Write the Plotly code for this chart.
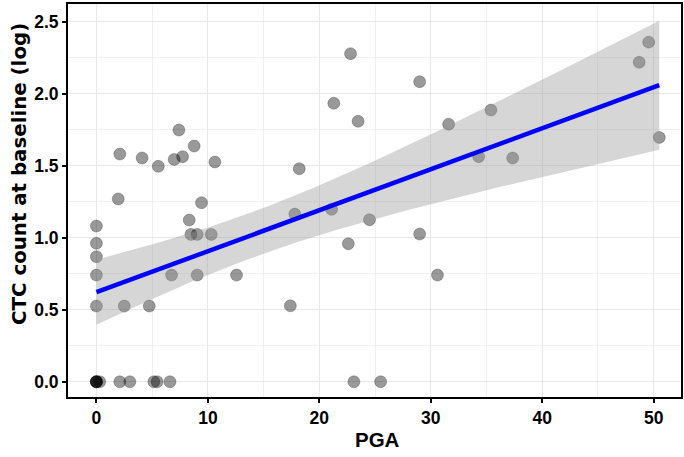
import numpy as np
import plotly.graph_objects as go

# Data (PGA vs log CTC count)
pga = [0, 0, 0, 0, 0.3,
       2.1, 3.0, 5.15, 5.45, 6.6,
       0, 0, 0, 0, 0,
       1.96, 2.1, 2.5, 4.1, 4.74, 5.55, 6.74, 6.98, 7.4, 7.73, 8.33, 8.48,
       8.77, 9.04, 9.04, 9.43, 10.3, 10.63, 12.57,
       17.4, 17.8, 18.2, 21.1, 21.3, 22.6, 22.8, 23.1, 23.48, 24.5, 25.5,
       29.0, 29.0, 30.6, 31.6, 34.3, 35.4, 37.35, 48.7, 49.55, 50.5]
ctc = [0, 0, 0, 0, 0,
       0, 0, 0, 0, 0,
       0.526, 0.741, 0.869, 0.962, 1.082,
       1.27, 1.582, 0.526, 1.555, 0.526, 1.497, 0.741, 1.545, 1.749, 1.564, 1.124, 1.024,
       1.638, 1.024, 0.741, 1.244, 1.024, 1.527, 0.741,
       0.528, 1.165, 1.48, 1.198, 1.935, 0.959, 2.28, 0, 1.81, 1.126, 0,
       2.085, 1.026, 0.741, 1.79, 1.564, 1.888, 1.555, 2.22, 2.36, 1.698]

x_ticks = [0, 10, 20, 30, 40, 50]
y_ticks = [0.0, 0.5, 1.0, 1.5, 2.0, 2.5]
y_tick_labels = ["0.0", "0.5", "1.0", "1.5", "2.0", "2.5"]
x_title = "PGA"
y_title = "CTC count at baseline (log)"

# Linear fit with 95% confidence band (like geom_smooth(method = "lm"))
x = np.array(pga, dtype=float)
y = np.array(ctc, dtype=float)
n = len(x)
b1, b0 = np.polyfit(x, y, 1)
resid = y - (b0 + b1 * x)
s = np.sqrt(np.sum(resid ** 2) / (n - 2))
xbar = x.mean()
sxx = np.sum((x - xbar) ** 2)
nu = n - 2
z = 1.959964
tq = z + (z ** 3 + z) / (4 * nu) + (5 * z ** 5 + 16 * z ** 3 + 3 * z) / (96 * nu ** 2)
xg = np.linspace(x.min(), x.max(), 80)
yg = b0 + b1 * xg
se = s * np.sqrt(1 / n + (xg - xbar) ** 2 / sxx)
lo = yg - tq * se
hi = yg + tq * se

fig = go.Figure()
fig.add_trace(go.Scatter(
    x=pga, y=ctc, mode="markers",
    marker=dict(size=12, color="rgba(0,0,0,0.4)",
                line=dict(color="rgba(0,0,0,0.3)", width=0.8)),
    showlegend=False))
fig.add_trace(go.Scatter(
    x=np.concatenate([xg, xg[::-1]]), y=np.concatenate([hi, lo[::-1]]),
    fill="toself", fillcolor="rgba(153,153,153,0.4)", line=dict(width=0),
    mode="lines", hoverinfo="skip", showlegend=False))
fig.add_trace(go.Scatter(
    x=xg, y=yg, mode="lines", line=dict(color="#0000ff", width=4.5),
    showlegend=False))

axis_common = dict(
    showline=True, linecolor="black", linewidth=2, mirror=True,
    ticks="outside", ticklen=4, tickwidth=1.5, tickcolor="black",
    gridcolor="#e8e8e8", gridwidth=1.4, zeroline=False, automargin=False,
    tickfont=dict(family="Liberation Sans", size=17.5, color="black", weight="bold"),
)

fig.update_xaxes(range=[-2.55, 52.45], tickvals=x_ticks, **axis_common,
                 minor=dict(tickvals=[5, 15, 25, 35, 45], showgrid=True,
                            gridcolor="#f0f0f0", gridwidth=0.9, ticks=""))
fig.update_yaxes(range=[-0.106, 2.625], tickvals=y_ticks, ticktext=y_tick_labels,
                 **axis_common,
                 minor=dict(tickvals=[0.25, 0.75, 1.25, 1.75, 2.25], showgrid=True,
                            gridcolor="#f0f0f0", gridwidth=0.9, ticks=""))

fig.add_annotation(text="<b>%s</b>" % x_title, xref="paper", yref="paper",
                   x=(377.5 - 68) / 613, y=(397 - 440) / 393,
                   xanchor="center", yanchor="middle", showarrow=False,
                   font=dict(family="Liberation Sans", size=20.5, color="black"))
fig.add_annotation(text="<b>%s</b>" % y_title, xref="paper", yref="paper",
                   x=(19 - 68) / 613, y=(397 - 174) / 393, textangle=-90,
                   xanchor="center", yanchor="middle", showarrow=False,
                   font=dict(family="DejaVu Sans", size=19.8, color="black"))

fig.update_layout(
    width=684, height=457,
    margin=dict(l=68, r=3, t=4, b=60),
    plot_bgcolor="white", paper_bgcolor="white",
)

fig.write_html("out.html", config={"displayModeBar": False},
               post_script="document.body.style.margin='0';")
